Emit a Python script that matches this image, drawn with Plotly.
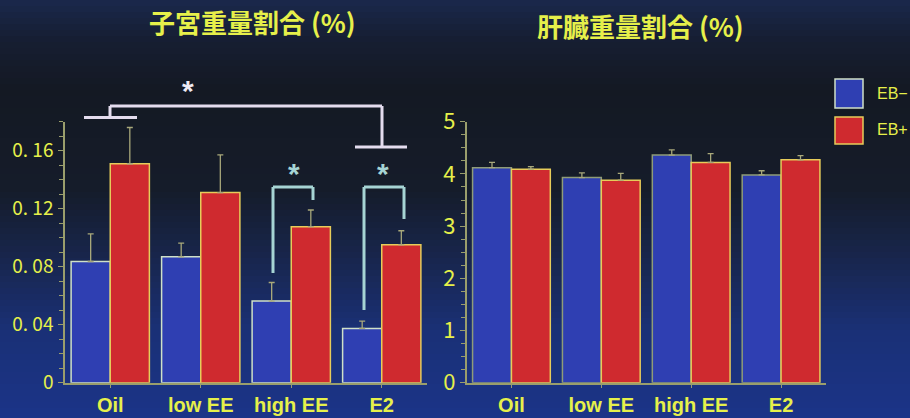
import plotly.graph_objects as go

W, H = 910, 418

categories = ["Oil", "low EE", "high EE", "E2"]

uterus_ebminus = [0.0836, 0.0868, 0.0563, 0.0374]
uterus_ebminus_err = [0.019, 0.0095, 0.0128, 0.005]
uterus_ebplus = [0.151, 0.1311, 0.1076, 0.0951]
uterus_ebplus_err = [0.025, 0.026, 0.0115, 0.0097]

liver_ebminus = [4.12, 3.93, 4.36, 3.98]
liver_ebminus_err = [0.10, 0.09, 0.10, 0.08]
liver_ebplus = [4.09, 3.88, 4.22, 4.27]
liver_ebplus_err = [0.05, 0.13, 0.17, 0.08]

uterus_tickvals = [0, 0.04, 0.08, 0.12, 0.16]
uterus_ticktext = ["0", "0. 04", "0. 08", "0. 12", "0. 16"]
liver_tickvals = [0, 1, 2, 3, 4, 5]
liver_ticktext = ["0", "1", "2", "3", "4", "5"]

series_names = ["EB−", "EB+"]

BLUE = "#2f3fb2"
RED = "#cf2a2f"
YEL = "#e6f04a"
AXC = "#9a9e6c"
ERRC = "#a8a87a"


def px(x):
    return x / W


def py(y):
    return 1 - y / H


fig = go.Figure()

# Left: uterus
fig.add_trace(go.Bar(x=categories, y=uterus_ebminus, name=series_names[0],
                     marker=dict(color=BLUE, line=dict(color="#cfe0c8", width=1.5)),
                     error_y=dict(type="data", array=uterus_ebminus_err, arrayminus=[0] * 4,
                                  symmetric=False, color=ERRC, thickness=1.3, width=3),
                     xaxis="x", yaxis="y", showlegend=False))
fig.add_trace(go.Bar(x=categories, y=uterus_ebplus, name=series_names[1],
                     marker=dict(color=RED, line=dict(color="#e6cc5a", width=1.5)),
                     error_y=dict(type="data", array=uterus_ebplus_err, arrayminus=[0] * 4,
                                  symmetric=False, color=ERRC, thickness=1.3, width=3),
                     xaxis="x", yaxis="y", showlegend=False))
# Right: liver
fig.add_trace(go.Bar(x=categories, y=liver_ebminus, name=series_names[0],
                     marker=dict(color=BLUE, line=dict(color="#8f9c78", width=1.5)),
                     error_y=dict(type="data", array=liver_ebminus_err, arrayminus=[0] * 4,
                                  symmetric=False, color=ERRC, thickness=1.3, width=3),
                     xaxis="x2", yaxis="y2", showlegend=False))
fig.add_trace(go.Bar(x=categories, y=liver_ebplus, name=series_names[1],
                     marker=dict(color=RED, line=dict(color="#e6cc5a", width=1.5)),
                     error_y=dict(type="data", array=liver_ebplus_err, arrayminus=[0] * 4,
                                  symmetric=False, color=ERRC, thickness=1.3, width=3),
                     xaxis="x2", yaxis="y2", showlegend=False))

shapes = []

# background gradient
stops = [(0, (26, 40, 76)), (40, (22, 30, 50)), (90, (20, 25, 35)), (190, (21, 28, 42)),
         (260, (24, 38, 78)), (330, (26, 48, 118)), (418, (27, 52, 136))]


def col_at(y):
    for (y0, c0), (y1, c1) in zip(stops[:-1], stops[1:]):
        if y0 <= y <= y1:
            t = (y - y0) / (y1 - y0)
            return "rgb(%d,%d,%d)" % tuple(round(a + (b - a) * t) for a, b in zip(c0, c1))
    return "rgb(%d,%d,%d)" % stops[-1][1]


step = 6
for y in range(0, H, step):
    shapes.append(dict(type="rect", xref="paper", yref="paper", x0=0, x1=1,
                       y0=py(min(y + step + 1, H)), y1=py(y), layer="below",
                       fillcolor=col_at(y + step / 2), line=dict(width=0)))

# significance brackets (white)
WH = "#e4dcee"
for (x0, y0, x1, y1) in [(84, 117.5, 137, 117.5), (110, 117.5, 110, 106), (110, 106, 382, 106),
                         (382, 106, 382, 147), (355, 147, 407, 147)]:
    shapes.append(dict(type="line", xref="paper", yref="paper", x0=px(x0), y0=py(y0),
                       x1=px(x1), y1=py(y1), line=dict(color=WH, width=3)))
CY = "#a6d4d4"
for (x0, y0, x1, y1) in [(273, 273, 273, 187), (273, 187, 313, 187), (313, 187, 313, 200),
                         (364, 310, 364, 187), (364, 187, 404, 187), (404, 187, 404, 219)]:
    shapes.append(dict(type="line", xref="paper", yref="paper", x0=px(x0), y0=py(y0),
                       x1=px(x1), y1=py(y1), line=dict(color=CY, width=3)))

# legend swatches
shapes.append(dict(type="rect", xref="paper", yref="paper", x0=px(835), x1=px(863),
                   y0=py(108), y1=py(79), fillcolor=BLUE, line=dict(color="#cfe0c8", width=1.5)))
shapes.append(dict(type="rect", xref="paper", yref="paper", x0=px(835), x1=px(863),
                   y0=py(144), y1=py(117), fillcolor=RED, line=dict(color="#e6cc5a", width=1.5)))


def ann(text, x, y, size, color, family, xanchor="center"):
    return dict(text=text, x=px(x), y=py(y), xref="paper", yref="paper", showarrow=False,
                xanchor=xanchor, yanchor="middle", font=dict(size=size, color=color, family=family))


annotations = [
    ann("<b>子宮重量割合 (%)</b>", 252, 22, 26, YEL, "Noto Sans CJK JP"),
    ann("<b>肝臓重量割合 (%)</b>", 640, 25, 26, YEL, "Noto Sans CJK JP"),
    ann("<b>*</b>", 188, 91, 30, "#eeeaf4", "Liberation Sans"),
    ann("<b>*</b>", 294, 173, 30, CY, "Liberation Sans"),
    ann("<b>*</b>", 383, 173, 30, CY, "Liberation Sans"),
    ann(series_names[0], 875, 93, 16, YEL, "Liberation Sans", xanchor="left"),
    ann(series_names[1], 875, 130, 16, YEL, "Liberation Sans", xanchor="left"),
]

xcommon = dict(showline=True, linecolor=AXC, linewidth=1.5, ticks="outside", ticklen=4,
               tickcolor=AXC, tickwidth=1.2, showgrid=False, zeroline=False, automargin=False,
               tickfont=dict(size=20, color=YEL, family="Liberation Sans"),
               range=[-0.5, 3.5], tickprefix="<b>", ticksuffix="</b>")

ydom = [35.3 / H, 1 - 121.7 / H]

fig.update_layout(
    width=W, height=H,
    margin=dict(l=0, r=0, t=0, b=0, pad=0, autoexpand=False),
    paper_bgcolor="#16203a", plot_bgcolor="rgba(0,0,0,0)",
    barmode="group", bargap=0.135, bargroupgap=0,
    showlegend=False,
    xaxis=dict(domain=[px(65), px(427)], anchor="y", **xcommon),
    xaxis2=dict(domain=[px(466.5), px(826)], anchor="y2", **xcommon),
    yaxis=dict(domain=ydom, anchor="x", range=[0, 0.18], showline=True, linecolor=AXC,
               linewidth=1.5, ticks="outside", ticklen=5, tickcolor=AXC, tickwidth=1.2,
               automargin=False, ticklabelstandoff=1,
               tickvals=uterus_tickvals, ticktext=uterus_ticktext, showgrid=False, zeroline=False,
               tickfont=dict(size=19, color=YEL, family="Noto Sans CJK JP"),
               minor=dict(dtick=0.01, tick0=0, ticks="outside", ticklen=4, tickcolor=AXC, tickwidth=1.2)),
    yaxis2=dict(domain=ydom, anchor="x2", range=[0, 5], showline=True, linecolor=AXC,
                linewidth=1.5, ticks="outside", ticklen=5, tickcolor=AXC, tickwidth=1.2,
                automargin=False,
                tickvals=liver_tickvals, ticktext=liver_ticktext, showgrid=False, zeroline=False,
                tickfont=dict(size=22, color=YEL, family="Liberation Sans Narrow, Noto Sans CJK JP"),
                minor=dict(dtick=0.25, tick0=0, ticks="outside", ticklen=4, tickcolor=AXC, tickwidth=1.2)),
    shapes=shapes,
    annotations=annotations,
)

fig.write_html("out.html")
